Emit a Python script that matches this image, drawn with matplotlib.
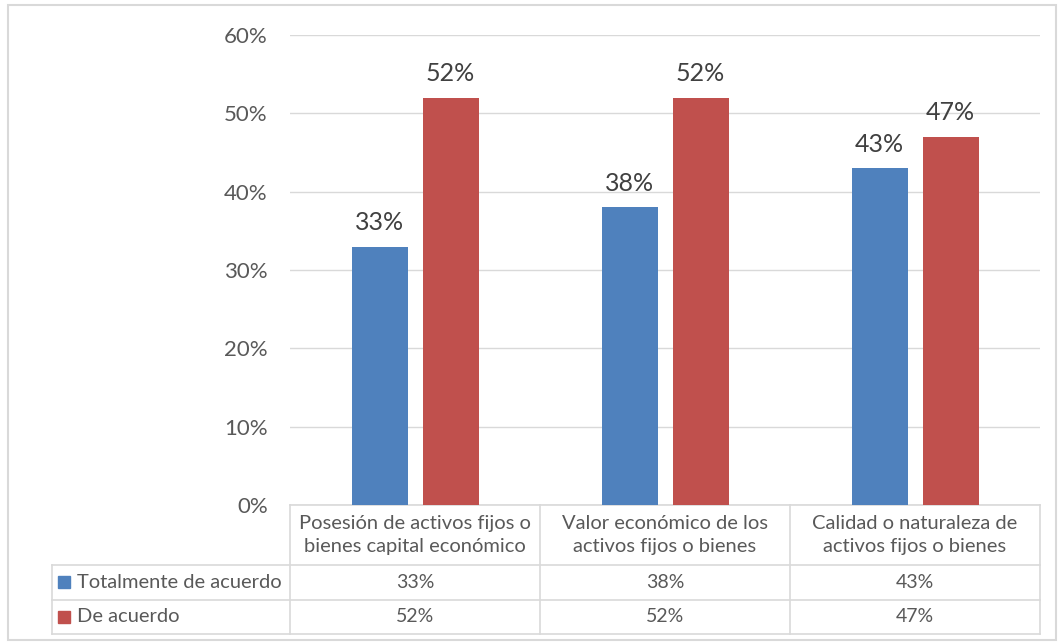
import matplotlib
matplotlib.use('Agg')
import matplotlib.pyplot as plt
from matplotlib.patches import Rectangle
from matplotlib.ticker import PercentFormatter
import numpy as np

categories = ['Posesión de activos fijos o\nbienes capital económico',
              'Valor económico de los\nactivos fijos o bienes',
              'Calidad o naturaleza de\nactivos fijos o bienes']
series_names = ['Totalmente de acuerdo', 'De acuerdo']
totalmente = [0.33, 0.38, 0.43]
de_acuerdo = [0.52, 0.52, 0.47]
colors = ['#4f81bd', '#c0504d']

plt.rcParams['font.family'] = ['Lato', 'DejaVu Sans']
txt = '#595959'
grid = '#d9d9d9'

W, H = 1064, 644
fig = plt.figure(figsize=(W / 100, H / 100), dpi=100)

# plot area in pixels
x0, x1, y_top, y_bot = 290, 1040, 35, 505
ax = fig.add_axes([x0 / W, 1 - y_bot / H, (x1 - x0) / W, (y_bot - y_top) / H])

x = np.arange(len(categories))
bw = 0.224
off = 0.142
ax.bar(x - off, totalmente, bw, color=colors[0], zorder=3)
ax.bar(x + off, de_acuerdo, bw, color=colors[1], zorder=3)

for xi, v in zip(x, totalmente):
    ax.annotate(f'{v:.0%}', (xi - off, v), xytext=(0, 9), textcoords='offset points',
                ha='center', va='bottom', fontsize=18, color='#404040')
for xi, v in zip(x, de_acuerdo):
    ax.annotate(f'{v:.0%}', (xi + off, v), xytext=(0, 9), textcoords='offset points',
                ha='center', va='bottom', fontsize=18, color='#404040')

ax.set_xlim(-0.5, len(categories) - 0.5)
ax.set_ylim(0, 0.6)
ax.set_yticks(np.arange(0, 0.61, 0.1))
ax.yaxis.set_major_formatter(PercentFormatter(1.0, decimals=0))
ax.tick_params(axis='y', length=0, pad=16, labelsize=16, labelcolor=txt)
ax.tick_params(axis='x', length=0, labelbottom=False)
ax.grid(axis='y', color=grid, linewidth=1, zorder=0)
for s in ax.spines.values():
    s.set_visible(False)

# data table below the axis
tr = ax.get_xaxis_transform()
h = y_bot - y_top
r1 = -(565 - y_bot) / h
r2 = -(600 - y_bot) / h
r3 = -(634 - y_bot) / h
left = -0.5 - (x0 - 52) / ((x1 - x0) / len(categories))
lk = dict(color=grid, lw=1.2, clip_on=False, transform=tr, zorder=1)
ax.plot([-0.5, 2.5], [0, 0], **lk)
for yy in (r1, r2, r3):
    ax.plot([left, 2.5], [yy, yy], **lk)
for xb in np.arange(-0.5, 2.6, 1):
    ax.plot([xb, xb], [0, r3], **lk)
ax.plot([left, left], [r1, r3], **lk)

for xi, c in zip(x, categories):
    ax.text(xi, r1 / 2, c, transform=tr, ha='center', va='center', fontsize=14.5,
            color=txt, linespacing=1.45)
rows = [totalmente, de_acuerdo]
for (yt, yb), name, col, vals in zip([(r1, r2), (r2, r3)], series_names, colors, rows):
    ym = (yt + yb) / 2
    ax.add_patch(Rectangle((left + 0.025, ym - 0.012), 0.048, 0.025, transform=tr,
                           color=col, clip_on=False))
    ax.text(left + 0.1, ym, name, transform=tr, ha='left', va='center', fontsize=14.5, color=txt)
    for xi, v in zip(x, vals):
        ax.text(xi, ym, f'{v:.0%}', transform=tr, ha='center', va='center',
                fontsize=14, color=txt)

# outer chart border
fig.patches.append(Rectangle((8 / W, 1 - 640 / H), 1048 / W, 635 / H, transform=fig.transFigure,
                             fill=False, edgecolor=grid, lw=1.5))

fig.savefig('out.png', dpi=100)
